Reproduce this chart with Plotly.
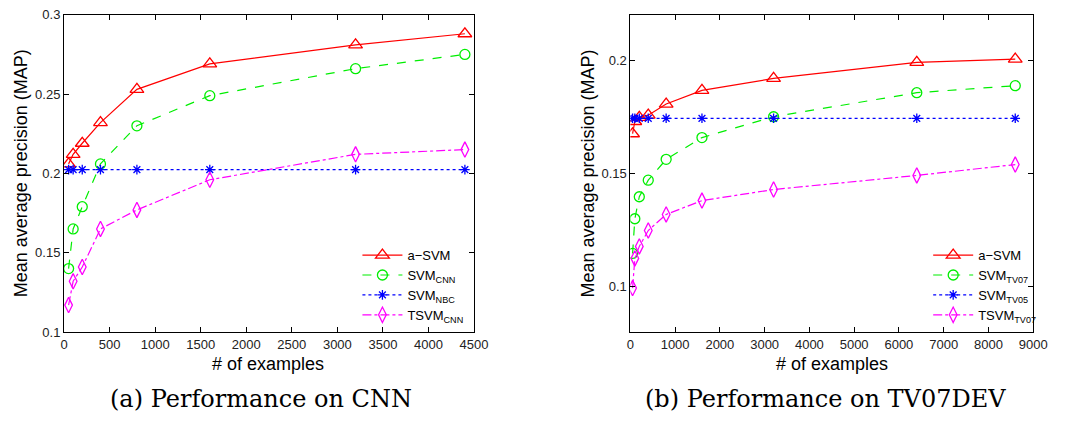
import plotly.graph_objects as go

# ---- data: (a) CNN ----
x_cnn = [50, 100, 200, 400, 800, 1600, 3200, 4400]
asvm_cnn = [0.206, 0.212, 0.219, 0.232, 0.253, 0.269, 0.281, 0.288]
svm_cnn = [0.140, 0.165, 0.179, 0.206, 0.230, 0.249, 0.266, 0.275]
svm_nbc = [0.2024, 0.2024, 0.2024, 0.2024, 0.2024, 0.2024, 0.2024, 0.2024]
tsvm_cnn = [0.117, 0.132, 0.141, 0.165, 0.177, 0.196, 0.212, 0.215]

# ---- data: (b) TV07DEV ----
x_tv = [50, 100, 200, 400, 800, 1600, 3200, 6400, 8600]
asvm_tv = [0.1675, 0.1729, 0.1747, 0.1757, 0.1806, 0.1866, 0.1919, 0.1990, 0.2004]
svm_tv07 = [0.1147, 0.1300, 0.1397, 0.1470, 0.1562, 0.1658, 0.1750, 0.1856, 0.1887]
svm_tv05 = [0.1743] * 9
tsvm_tv07 = [0.0994, 0.1125, 0.1178, 0.1248, 0.1319, 0.1380, 0.1429, 0.1491, 0.1539]

names_a = ["a\u2212SVM", "SVM<sub>CNN</sub>", "SVM<sub>NBC</sub>", "TSVM<sub>CNN</sub>"]
names_b = ["a\u2212SVM", "SVM<sub>TV07</sub>", "SVM<sub>TV05</sub>", "TSVM<sub>TV07</sub>"]

styles = [
    dict(color="#ff0000", dash="solid", symbol="triangle-up-open", size=12),
    dict(color="#00ee00", dash="dash", symbol="circle-open", size=10),
    dict(color="#0000ff", dash="dot", symbol="asterisk-open", size=8),
    dict(color="#ff00ff", dash="dashdot", symbol="diamond-tall-open", size=11),
]

fig = go.Figure()

def add(x, ys, names, xa, ya, leg):
    for y, n, s in zip(ys, names, styles):
        fig.add_trace(go.Scatter(
            x=x, y=y, name=n, mode="lines+markers",
            xaxis=xa, yaxis=ya, legend=leg,
            line=dict(color=s["color"], dash=s["dash"], width=1.2),
            marker=dict(symbol=s["symbol"], size=s["size"], color=s["color"],
                        line=dict(color=s["color"], width=1.3)),
        ))

add(x_cnn, [asvm_cnn, svm_cnn, svm_nbc, tsvm_cnn], names_a, "x", "y", "legend")
add(x_tv, [asvm_tv, svm_tv07, svm_tv05, tsvm_tv07], names_b, "x2", "y2", "legend2")

tickfont = dict(family="Liberation Sans, Arial", size=13, color="#222222")
axcommon = dict(showline=True, linecolor="black", linewidth=1, mirror="ticks",
                ticks="inside", ticklen=5, tickcolor="black", showgrid=False,
                zeroline=False, tickfont=tickfont)

legfont = dict(family="Liberation Sans, Arial", size=13, color="black")
fig.update_layout(
    width=1073, height=424,
    margin=dict(l=0, r=0, t=0, b=0),
    paper_bgcolor="white", plot_bgcolor="white",
    xaxis=dict(domain=[0.0569, 0.4455], range=[0, 4500], tickvals=list(range(0, 4501, 500)),
               anchor="y", **axcommon),
    yaxis=dict(domain=[0.2052, 0.9811], range=[0.1, 0.3], tickvals=[0.1, 0.15, 0.2, 0.25, 0.3],
               ticktext=["0.1", "0.15", "0.2", "0.25", "0.3"], anchor="x", **axcommon),
    xaxis2=dict(domain=[0.5937, 0.9755], range=[0, 9000], tickvals=list(range(0, 9001, 1000)),
                anchor="y2", **axcommon),
    yaxis2=dict(domain=[0.2052, 0.9811], range=[0.08, 0.22], tickvals=[0.1, 0.15, 0.2],
                ticktext=["0.1", "0.15", "0.2"], anchor="x2", **axcommon),
    legend=dict(x=0.335, y=0.43, xanchor="left", yanchor="top", bgcolor="rgba(0,0,0,0)",
                font=legfont, tracegroupgap=0, itemwidth=40),
    legend2=dict(x=0.876, y=0.43, xanchor="left", yanchor="top", bgcolor="rgba(0,0,0,0)",
                 font=legfont, tracegroupgap=0, itemwidth=40),
    showlegend=True,
)

titlefont = dict(family="Liberation Sans, Arial", size=18, color="black")
capfont = dict(family="DejaVu Serif, Liberation Serif", size=24, color="black")
ann = [
    dict(text="Mean average precision (MAP)", x=0.0163, y=0.594, textangle=-90, font=titlefont),
    dict(text="Mean average precision (MAP)", x=0.554, y=0.594, textangle=-90, font=titlefont),
    dict(text="# of examples", x=0.2507, y=0.127, font=titlefont),
    dict(text="# of examples", x=0.7847, y=0.127, font=titlefont),
    dict(text="(a) Performance on CNN", x=0.2432, y=0.042, font=capfont),
    dict(text="(b) Performance on TV07DEV", x=0.779, y=0.042, font=capfont),
]
for a in ann:
    fig.add_annotation(xref="paper", yref="paper", showarrow=False,
                       xanchor="center", yanchor="middle", **a)

fig.write_html("out.html")
